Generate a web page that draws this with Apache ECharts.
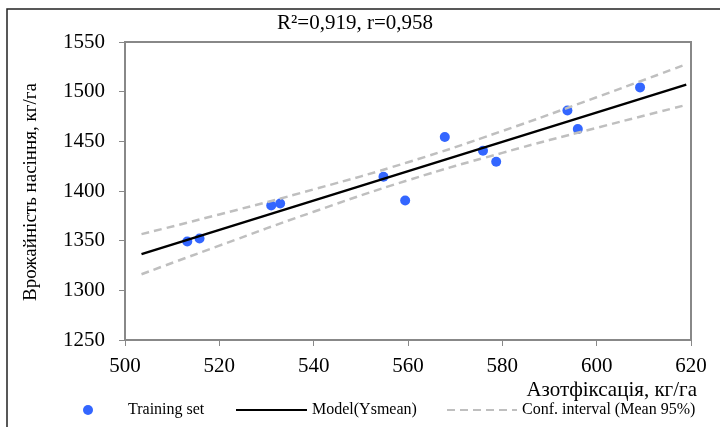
<!DOCTYPE html>
<html>
<head>
<meta charset="utf-8">
<script src="https://cdn.jsdelivr.net/npm/echarts@6/dist/echarts.min.js"></script>
<style>
  html, body { margin: 0; padding: 0; background: #fff; }
  #chart { width: 720px; height: 427px; }
</style>
</head>
<body>
<div id="chart"></div>
<script>
// Азотфіксація (x) та врожайність насіння (y)
var trainX = [513.2, 515.8, 531.0, 532.9, 554.8, 559.4, 567.8, 575.9, 578.7, 593.8, 596.0, 609.2];
var trainY = [1349.1, 1352.1, 1385.4, 1387.4, 1414.3, 1390.4, 1454.3, 1440.5, 1429.4, 1481.1, 1462.3, 1504.3];

// модель
var modelX = [503.5, 619];
var modelY = [1336.4, 1507.1];

// довірчий інтервал (Mean 95%)
var ciX = [503.5, 520, 540, 560, 580, 600, 619];
var ciUpper = [1356.6, 1376.4, 1401.6, 1429.0, 1460.4, 1494.4, 1527.6];
var ciLower = [1316.2, 1345.0, 1379.1, 1410.8, 1438.4, 1463.6, 1486.6];

var titleText = 'R²=0,919, r=0,958';
var xTitle = 'Азотфіксація, кг/га';
var yTitle = 'Врожайність насіння, кг/га';

function pairs(xs, ys) {
    var out = [];
    for (var i = 0; i < xs.length; i++) {
        out.push([xs[i], ys[i]]);
    }
    return out;
}

var font = 'Liberation Serif, Times New Roman, serif';
var legendText = { fontFamily: font, fontSize: 16, color: '#000' };
var myChart = echarts.init(document.getElementById('chart'));

myChart.setOption({
    animation: false,
    backgroundColor: '#fff',
    textStyle: { fontFamily: font },
    title: {
        text: titleText,
        left: 277,
        top: 13,
        padding: 0,
        textStyle: { fontFamily: font, fontSize: 21, fontWeight: 'normal', color: '#000' }
    },
    grid: {
        left: 125, right: 29, top: 42, bottom: 87,
        show: true,
        borderColor: '#888',
        borderWidth: 2
    },
    legend: [
        {
            left: 83, top: 402, padding: 0,
            itemWidth: 12, itemHeight: 10,
            textStyle: Object.assign({}, legendText, { padding: [0, 0, 0, 29] }),
            data: ['Training set']
        },
        {
            left: 235, top: 402, padding: 0,
            itemWidth: 71, itemHeight: 10,
            itemStyle: { opacity: 0 },
            textStyle: legendText,
            data: ['Model(Ysmean)']
        },
        {
            left: 446, top: 402, padding: 0,
            itemWidth: 70, itemHeight: 10,
            itemStyle: { opacity: 0 },
            textStyle: legendText,
            data: ['Conf. interval (Mean 95%)']
        }
    ],
    xAxis: {
        type: 'value',
        min: 500, max: 620, interval: 20,
        splitLine: { show: false },
        axisLine: { lineStyle: { color: '#888', width: 2 } },
        axisTick: { show: true, length: 6, lineStyle: { color: '#888', width: 1 } },
        axisLabel: { fontFamily: font, fontSize: 21, color: '#000', margin: 16 }
    },
    yAxis: {
        type: 'value',
        min: 1250, max: 1550, interval: 50,
        splitLine: { show: false },
        axisLine: { show: true, lineStyle: { color: '#888', width: 2 } },
        axisTick: { show: true, length: 6, lineStyle: { color: '#888', width: 1 } },
        axisLabel: {
            fontFamily: font, fontSize: 21, color: '#000', margin: 20,
            formatter: function (v) { return String(v); }
        }
    },
    graphic: [
        {
            type: 'rect',
            shape: { x: 7, y: 9, width: 800, height: 800 },
            style: { fill: 'none', stroke: '#222', lineWidth: 1.5 },
            silent: true
        },
        {
            type: 'text',
            x: 697, y: 390,
            style: { text: xTitle, font: '21px ' + font, fill: '#000', align: 'right', verticalAlign: 'middle' }
        },
        {
            type: 'text',
            x: 31, y: 192,
            rotation: Math.PI / 2,
            style: { text: yTitle, font: '19px ' + font, fill: '#000', align: 'center', verticalAlign: 'middle' }
        }
    ],
    series: [
        {
            name: 'Conf. interval (Mean 95%)',
            type: 'line',
            smooth: true,
            symbol: 'none',
            data: pairs(ciX, ciUpper),
            lineStyle: { color: '#bfbfbf', width: 2.5, type: [8, 5] },
            itemStyle: { color: 'rgba(0,0,0,0)', borderWidth: 0 }
        },
        {
            name: 'Conf. interval (Mean 95%)',
            type: 'line',
            smooth: true,
            symbol: 'none',
            data: pairs(ciX, ciLower),
            lineStyle: { color: '#bfbfbf', width: 2.5, type: [8, 5] },
            itemStyle: { color: 'rgba(0,0,0,0)', borderWidth: 0 }
        },
        {
            name: 'Model(Ysmean)',
            type: 'line',
            symbol: 'none',
            data: pairs(modelX, modelY),
            lineStyle: { color: '#000', width: 2.5 },
            itemStyle: { color: 'rgba(0,0,0,0)', borderWidth: 0 }
        },
        {
            name: 'Training set',
            type: 'scatter',
            symbol: 'circle',
            symbolSize: 10,
            data: pairs(trainX, trainY),
            itemStyle: { color: '#3366ff', opacity: 1 }
        }
    ]
});
</script>
</body>
</html>
